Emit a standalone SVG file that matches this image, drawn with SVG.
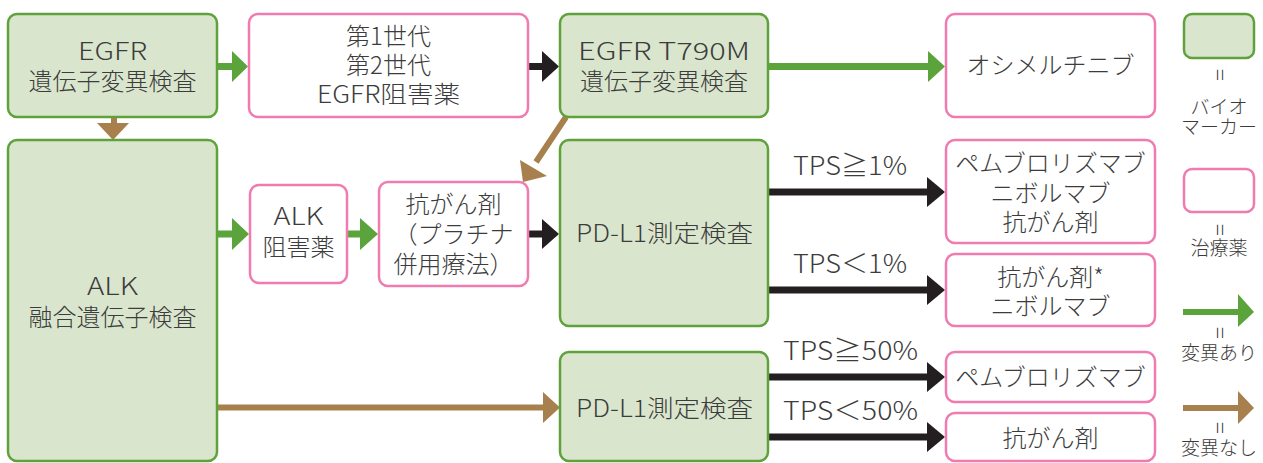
<svg xmlns="http://www.w3.org/2000/svg" width="1263" height="463" viewBox="0 0 1263 463">
<style>
.bio{fill:#d9e6cd;stroke:#5fa23c;stroke-width:2.5}
.drug{fill:#ffffff;stroke:#f07bb0;stroke-width:2.5}
text{font-family:"Noto Sans CJK JP","Noto Sans",sans-serif;fill:#3c3c3c;text-anchor:middle;font-weight:300}
.t{font-size:24px}
.tps{font-size:26px}
.lg{font-size:19px}
.eq{font-size:22px}
.g{fill:#5ba33b}
.b{fill:#a8804e}
.k{fill:#231f20}
</style>
<rect width="1263" height="463" fill="#ffffff"/>
<g id="connectors">
  <rect class="g" x="217" y="63" width="17" height="7"/>
  <polygon class="g" points="232,51 248,66.5 232,82"/>
  <rect class="k" x="528" y="63" width="16" height="7"/>
  <polygon class="k" points="542,51 559,66.5 542,82"/>
  <rect class="g" x="768" y="63" width="162" height="7"/>
  <polygon class="g" points="928,51 945,66.5 928,82"/>
  <rect class="b" x="111" y="117" width="6" height="8"/>
  <polygon class="b" points="97,123 129,123 113,140"/>
  <line x1="566" y1="117" x2="536" y2="162" stroke="#a8804e" stroke-width="6"/>
  <polygon class="b" points="520,160 547,176 523,182"/>
  <rect class="g" x="217" y="230.5" width="17" height="7"/>
  <polygon class="g" points="232,218 249,234 232,250"/>
  <rect class="g" x="346" y="230.5" width="16" height="7"/>
  <polygon class="g" points="360,218 378,234 360,250"/>
  <rect class="k" x="527" y="230.5" width="17" height="7"/>
  <polygon class="k" points="542,219 559,234 542,249"/>
  <rect class="k" x="768" y="188.5" width="162" height="7"/>
  <polygon class="k" points="927,177 945,192 927,207"/>
  <rect class="k" x="768" y="286.5" width="162" height="7"/>
  <polygon class="k" points="927,275 945,290 927,305"/>
  <rect class="b" x="217" y="404.5" width="328" height="6"/>
  <polygon class="b" points="543,392 560,407.5 543,423"/>
  <rect class="k" x="768" y="373.5" width="162" height="7"/>
  <polygon class="k" points="927,362 945,377 927,392"/>
  <rect class="k" x="768" y="433.5" width="162" height="7"/>
  <polygon class="k" points="927,422 945,437 927,452"/>
  <text class="tps" x="850" y="175" textLength="114" lengthAdjust="spacingAndGlyphs">TPS≧1%</text>
  <text class="tps" x="850" y="273" textLength="114" lengthAdjust="spacingAndGlyphs">TPS＜1%</text>
  <text class="tps" x="850.5" y="360" textLength="135" lengthAdjust="spacingAndGlyphs">TPS≧50%</text>
  <text class="tps" x="850.5" y="420" textLength="135" lengthAdjust="spacingAndGlyphs">TPS＜50%</text>
</g>
<g id="egfr">
  <rect class="bio" x="8" y="14" width="209" height="103" rx="9"/>
  <text class="t" x="112.5" y="60" textLength="69" lengthAdjust="spacingAndGlyphs">EGFR</text>
  <text class="t" x="112.5" y="90">遺伝子変異検査</text>
</g>
<g id="gen12">
  <rect class="drug" x="249" y="14" width="279" height="103" rx="9"/>
  <text class="t" x="388.5" y="45">第1世代</text>
  <text class="t" x="388.5" y="74">第2世代</text>
  <text class="t" x="388.5" y="103" textLength="143" lengthAdjust="spacingAndGlyphs">EGFR阻害薬</text>
</g>
<g id="t790m">
  <rect class="bio" x="560" y="14" width="208" height="103" rx="9"/>
  <text class="t" x="664" y="60" textLength="172" lengthAdjust="spacingAndGlyphs">EGFR T790M</text>
  <text class="t" x="664" y="90">遺伝子変異検査</text>
</g>
<g id="osimertinib">
  <rect class="drug" x="946" y="14" width="209" height="103" rx="9"/>
  <text class="t" x="1050.5" y="74">オシメルチニブ</text>
</g>
<g id="alk">
  <rect class="bio" x="8" y="140" width="209" height="321" rx="9"/>
  <text class="t" x="112.5" y="295" textLength="51" lengthAdjust="spacingAndGlyphs">ALK</text>
  <text class="t" x="112.5" y="326">融合遺伝子検査</text>
</g>
<g id="alkinh">
  <rect class="drug" x="250" y="185" width="97" height="98" rx="9"/>
  <text class="t" x="298.5" y="225" textLength="50" lengthAdjust="spacingAndGlyphs">ALK</text>
  <text class="t" x="298.5" y="256">阻害薬</text>
</g>
<g id="chemo1">
  <rect class="drug" x="379" y="182" width="149" height="104" rx="9"/>
  <text class="t" x="453.5" y="213">抗がん剤</text>
  <text class="t" x="453.5" y="243">（プラチナ</text>
  <text class="t" x="453.5" y="273">併用療法）</text>
</g>
<g id="pdl1a">
  <rect class="bio" x="560" y="140" width="208" height="186" rx="9"/>
  <text class="t" x="664.5" y="242" textLength="177" lengthAdjust="spacingAndGlyphs">PD-L1測定検査</text>
</g>
<g id="res1">
  <rect class="drug" x="946" y="140" width="209" height="103" rx="9"/>
  <text class="t" x="1050.5" y="172">ペムブロリズマブ</text>
  <text class="t" x="1050.5" y="202">ニボルマブ</text>
  <text class="t" x="1050.5" y="231">抗がん剤</text>
</g>
<g id="res2">
  <rect class="drug" x="946" y="254" width="209" height="72" rx="9"/>
  <text class="t" x="1050.5" y="286">抗がん剤*</text>
  <text class="t" x="1050.5" y="315">ニボルマブ</text>
</g>
<g id="pdl1b">
  <rect class="bio" x="560" y="352" width="208" height="109" rx="9"/>
  <text class="t" x="664.5" y="417" textLength="177" lengthAdjust="spacingAndGlyphs">PD-L1測定検査</text>
</g>
<g id="res3">
  <rect class="drug" x="946" y="352" width="209" height="50" rx="9"/>
  <text class="t" x="1050.5" y="386">ペムブロリズマブ</text>
</g>
<g id="res4">
  <rect class="drug" x="946" y="413" width="209" height="48" rx="9"/>
  <text class="t" x="1050.5" y="447">抗がん剤</text>
</g>
<g id="legend">
  <rect class="bio" x="1184" y="14" width="70" height="44" rx="8"/>
  <text class="eq" transform="translate(1219,75) rotate(90)" y="7">=</text>
  <text class="lg" x="1219" y="114">バイオ</text>
  <text class="lg" x="1219" y="134">マーカー</text>
  <rect class="drug" x="1184" y="169" width="70" height="43" rx="8"/>
  <text class="eq" transform="translate(1219,230) rotate(90)" y="7">=</text>
  <text class="lg" x="1219" y="255">治療薬</text>
  <rect class="g" x="1183" y="309" width="57" height="6"/>
  <polygon class="g" points="1238,294 1254,312 1238,327"/>
  <text class="eq" transform="translate(1219,333) rotate(90)" y="7">=</text>
  <text class="lg" x="1219" y="360">変異あり</text>
  <rect class="b" x="1183" y="405" width="57" height="6"/>
  <polygon class="b" points="1238,391 1254,408 1238,424"/>
  <text class="eq" transform="translate(1219,428) rotate(90)" y="7">=</text>
  <text class="lg" x="1219" y="455">変異なし</text>
</g>
</svg>
